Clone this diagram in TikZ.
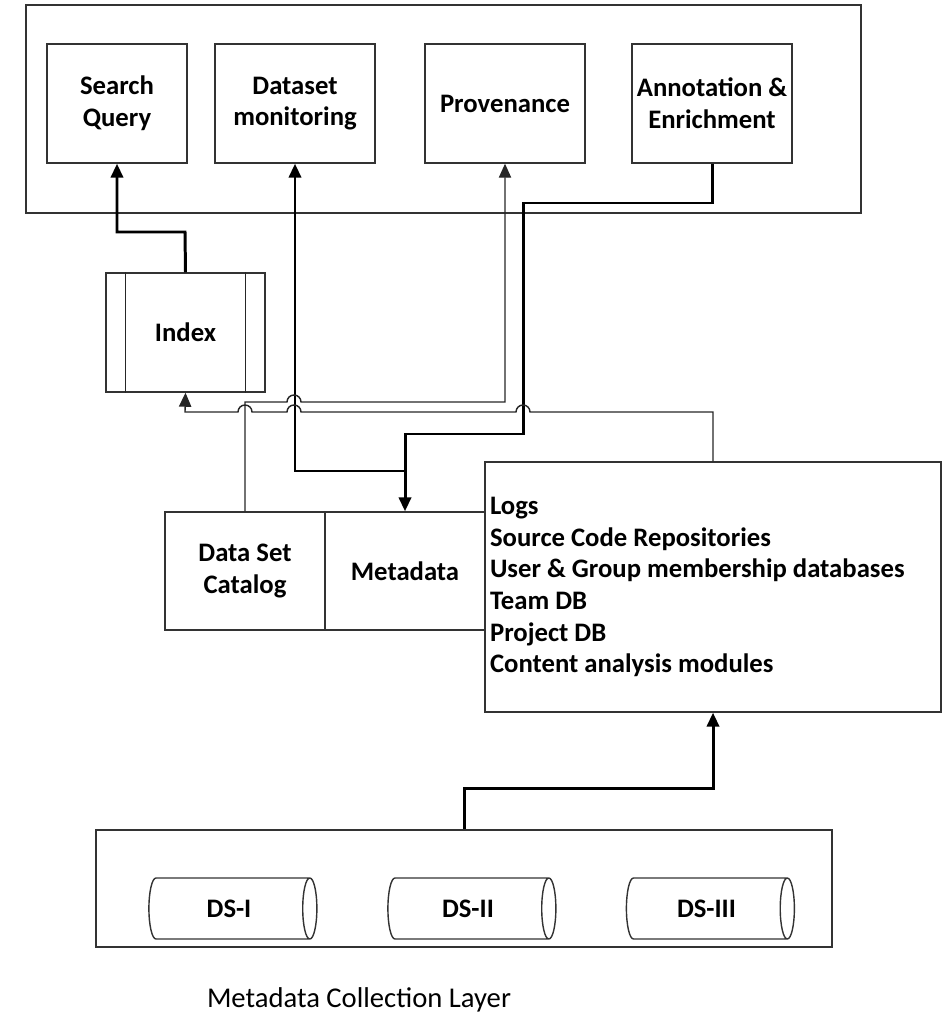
\documentclass[tikz,border=0pt]{standalone}
\usepackage{fontspec}
\setmainfont{Carlito}
\usetikzlibrary{arrows.meta,shapes.geometric}

\begin{document}
\begin{tikzpicture}[x=0.02cm,y=-0.02cm,
    box/.style={draw=black!80,line width=0.8pt,align=center,inner sep=0pt,
        font=\bfseries\fontsize{15.2}{18}\selectfont},
    ds/.style={box,cylinder,aspect=0.8,minimum width=1.22cm,minimum height=3.36cm},
    link/.style={draw=black!85,line width=0.8pt},
    flow/.style={draw=black,line width=1.7pt},
    tip/.style={-{Triangle[width=7pt,length=8pt]}}]
    \useasboundingbox (0,0) rectangle (946,1013);

    % application layer
    \node[box,minimum width=16.7cm,minimum height=4.16cm] (apps) at (443.5,109) {};
    \node[box,minimum width=2.8cm,minimum height=2.38cm] (search) at (117,103.5) {Search\\Query};
    \node[box,minimum width=3.2cm,minimum height=2.38cm] (dsmon) at (295,103.5) {Dataset\\monitoring};
    \node[box,minimum width=3.2cm,minimum height=2.38cm] (prov) at (505,103.5) {Provenance};
    \node[box,minimum width=3.2cm,minimum height=2.38cm] (annot) at (712,103.5) {Annotation \&\\Enrichment};

    % index and catalog
    \node[box,minimum width=3.18cm,minimum height=2.38cm] (index) at (185.5,332.5) {Index};
    \draw[link] ([xshift=0.4cm]index.north west) -- ([xshift=0.4cm]index.south west);
    \draw[link] ([xshift=-0.4cm]index.north east) -- ([xshift=-0.4cm]index.south east);
    \node[box,minimum width=3.2cm,minimum height=2.36cm] (catalog) at (245,571) {Data Set\\Catalog};
    \node[box,minimum width=3.2cm,minimum height=2.36cm] (meta) at (405,571) {Metadata};
    \node[box,align=flush left,text width=8.92cm,inner xsep=0.1cm,minimum height=5cm] (sources) at (713,587)
        {Logs\\Source Code Repositories\\User \& Group membership databases\\Team DB\\Project DB\\Content analysis modules};

    % collection layer
    \node[box,minimum width=14.72cm,minimum height=2.34cm] (store) at (464,888.5) {};
    \node[ds] (ds1) at (229,908.5) {DS-I};
    \node[ds] (ds2) at (468,908.5) {DS-II};
    \node[ds] (ds3) at (706.5,908.5) {DS-III};
    \node[font=\fontsize{16.3}{19}\selectfont] (layer) at (359,1000) {Metadata Collection Layer};

    % connectors
    \coordinate (split) at (405,471);
    \draw[flow,tip] (index.north) -- (185,232) -- (117,232) -- (search.south);
    \draw[flow,tip] (annot.south) -- (712,203) -- (523,203) -- (523,434) -- (405,434) -- (meta.north);
    \draw[flow,tip] (split) -- (295,471) -- (dsmon.south);
    \draw[link,tip] (catalog.north) -- (245,402) -- (287,402)
        arc[start angle=180,end angle=0,radius=0.14cm] -- (505,402) -- (prov.south);
    \draw[link,tip] (sources.north) -- (713,412) -- (530,412)
        arc[start angle=0,end angle=180,radius=0.14cm] -- (301,412)
        arc[start angle=0,end angle=180,radius=0.14cm] -- (252,412)
        arc[start angle=0,end angle=180,radius=0.14cm] -- (185,412) -- (index.south);
    \draw[flow,tip] (store.north) -- ++(0,-41) -| (sources.south);
\end{tikzpicture}
\end{document}
